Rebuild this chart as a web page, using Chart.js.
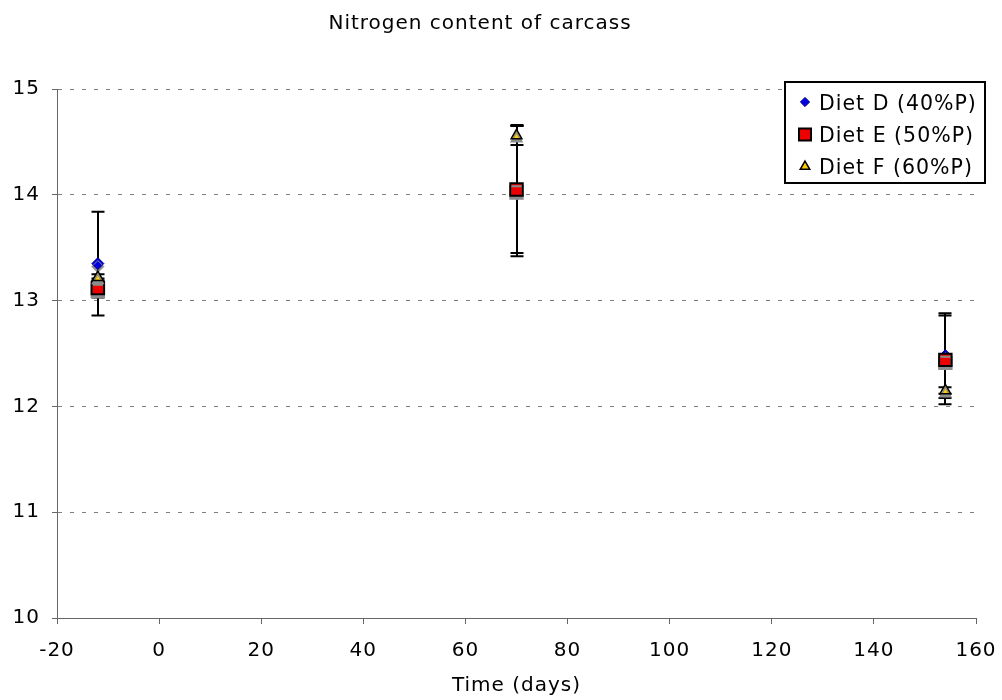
<!DOCTYPE html>
<html>
<head>
<meta charset="utf-8">
<title>Nitrogen content of carcass</title>
<script src="https://cdn.jsdelivr.net/npm/chart.js@4/dist/chart.umd.min.js"></script>
<style>
  html, body { margin: 0; padding: 0; background: #fff; }
  #wrap { width: 1002px; height: 700px; }
</style>
</head>
<body>
<div id="wrap"><canvas id="chart" width="1002" height="700"></canvas></div>
<script>
// Sampling times (days) and mean carcass nitrogen (%) with ± error per diet
const timeDays = [-12, 70, 154];
const dietD = [13.35, 14.04, 12.48];
const dietDErr = [0.49, 0.62, 0.40];
const dietE = [13.12, 14.05, 12.44];
const dietEErr = [0.09, 0.60, 0.42];
const dietF = [13.22, 14.56, 12.15];
const dietFErr = [0.03, 0.09, 0.03];
const seriesNames = ['Diet D (40%P)', 'Diet E (50%P)', 'Diet F (60%P)'];
const xTickValues = [-20, 0, 20, 40, 60, 80, 100, 120, 140, 160];
const yTickValues = [10, 11, 12, 13, 14, 15];
const chartTitle = 'Nitrogen content of carcass';
const xAxisTitle = 'Time (days)';

const FONT = "'DejaVu Sans', Verdana, sans-serif";
const FONT_SIZE = 20;
const LETTER_SPACING = '1px';

function toPoints(ys, errs) {
  return timeDays.map((x, i) => ({ x: x, y: ys[i], err: errs[i] }));
}

const styles = [
  { pointStyle: 'rectRot', radius: 6, bg: '#0000e0', border: '#000080', bw: 1 },
  { pointStyle: 'rect', radius: 8.8, bg: '#ee0000', border: '#000000', bw: 2 },
  { pointStyle: 'triangle', radius: 6.2, bg: '#ffcc00', border: '#000000', bw: 1.5 }
];

const seriesData = [
  toPoints(dietD, dietDErr),
  toPoints(dietE, dietEErr),
  toPoints(dietF, dietFErr)
];

const datasets = seriesData.map((pts, i) => ({
  label: seriesNames[i],
  data: pts,
  showLine: false,
  pointStyle: styles[i].pointStyle,
  pointRadius: styles[i].radius,
  pointHoverRadius: styles[i].radius,
  backgroundColor: styles[i].bg,
  borderColor: styles[i].border,
  pointBorderWidth: styles[i].bw,
  order: 3 - i
}));

// Letter spacing applied to all chart text
const textSpacing = {
  id: 'textSpacing',
  beforeDraw(chart) {
    chart.ctx.letterSpacing = LETTER_SPACING;
  }
};

// Vertical error bars with caps, drawn beneath the markers
const errorBars = {
  id: 'errorBars',
  beforeDatasetsDraw(chart) {
    const { ctx, scales: { x, y } } = chart;
    ctx.save();
    ctx.strokeStyle = '#000';
    ctx.lineWidth = 2;
    const cap = 6.5;
    chart.data.datasets.forEach(ds => {
      ds.data.forEach(p => {
        const px = Math.round(x.getPixelForValue(p.x));
        const yTop = y.getPixelForValue(p.y + p.err);
        const yBot = y.getPixelForValue(p.y - p.err);
        ctx.beginPath();
        ctx.moveTo(px, yTop);
        ctx.lineTo(px, yBot);
        ctx.moveTo(px - cap, yTop);
        ctx.lineTo(px + cap, yTop);
        ctx.moveTo(px - cap, yBot);
        ctx.lineTo(px + cap, yBot);
        ctx.stroke();
      });
    });
    ctx.restore();
  }
};

// Grey drop shadow under the data markers
const markerShadow = {
  id: 'markerShadow',
  beforeDatasetDraw(chart) {
    const ctx = chart.ctx;
    ctx.save();
    ctx.shadowColor = 'rgba(140,140,140,1)';
    ctx.shadowOffsetX = 0;
    ctx.shadowOffsetY = 3;
    ctx.shadowBlur = 0;
  },
  afterDatasetDraw(chart) {
    chart.ctx.restore();
  }
};

// Chart title, x-axis title and the boxed legend
const decorations = {
  id: 'decorations',
  afterDraw(chart) {
    const ctx = chart.ctx;
    const area = chart.chartArea;
    ctx.save();
    ctx.letterSpacing = LETTER_SPACING;
    ctx.fillStyle = '#000';
    ctx.textBaseline = 'alphabetic';
    ctx.textAlign = 'center';
    ctx.font = FONT_SIZE + 'px ' + FONT;
    ctx.fillText(chartTitle, 480, 28.5);
    ctx.fillText(xAxisTitle, (area.left + area.right) / 2, 691);

    // legend box
    const bx = 785, by = 82, bw = 200, bh = 101;
    ctx.fillStyle = '#fff';
    ctx.fillRect(bx, by, bw, bh);
    ctx.strokeStyle = '#000';
    ctx.lineWidth = 2;
    ctx.strokeRect(bx, by, bw, bh);

    const rowY = [102, 134.5, 166.5];
    const legendRadius = [4.6, 8.5, 5.5];
    ctx.textAlign = 'left';
    ctx.font = '20.5px ' + FONT;
    styles.forEach((s, i) => {
      ctx.fillStyle = s.bg;
      ctx.strokeStyle = s.border;
      ctx.lineWidth = s.bw;
      Chart.helpers.drawPoint(ctx, {
        pointStyle: s.pointStyle,
        radius: legendRadius[i],
        borderWidth: s.bw,
        rotation: 0
      }, 805, rowY[i]);
      ctx.fillStyle = '#000';
      ctx.fillText(seriesNames[i], 819, rowY[i] + 7.5);
    });
    ctx.restore();
  }
};

new Chart(document.getElementById('chart'), {
  type: 'scatter',
  data: { datasets: datasets },
  plugins: [textSpacing, errorBars, markerShadow, decorations],
  options: {
    responsive: false,
    animation: false,
    events: [],
    layout: { padding: { top: 89, right: 26, bottom: 0, left: 0 } },
    plugins: {
      legend: { display: false },
      title: { display: false },
      tooltip: { enabled: false }
    },
    scales: {
      x: {
        type: 'linear',
        min: -20,
        max: 160,
        afterBuildTicks(scale) {
          scale.ticks = xTickValues.map(v => ({ value: v }));
        },
        afterFit(scale) {
          scale.height = 82;
          scale.paddingLeft = 0;
          scale.paddingRight = 0;
        },
        grid: {
          drawOnChartArea: false,
          drawTicks: true,
          tickLength: 6,
          tickColor: '#666',
          tickWidth: 1
        },
        border: { display: true, color: '#666', width: 1 },
        ticks: {
          color: '#000',
          padding: 15,
          font: { family: FONT, size: FONT_SIZE },
          maxRotation: 0
        }
      },
      y: {
        type: 'linear',
        min: 10,
        max: 15,
        afterBuildTicks(scale) {
          scale.ticks = yTickValues.map(v => ({ value: v }));
        },
        afterFit(scale) { scale.width = 57; },
        grid: {
          drawOnChartArea: true,
          drawTicks: true,
          tickLength: 5,
          color: ctx => (ctx.tick && ctx.tick.value === 10) ? 'rgba(0,0,0,0)' : '#808080',
          lineWidth: 1,
          tickColor: '#666',
          tickWidth: 1,
          tickBorderDash: []
        },
        border: { display: true, color: '#666', width: 1, dash: [4, 8] },
        ticks: {
          color: '#000',
          padding: 12,
          font: { family: FONT, size: FONT_SIZE }
        }
      }
    }
  }
});
</script>
</body>
</html>
